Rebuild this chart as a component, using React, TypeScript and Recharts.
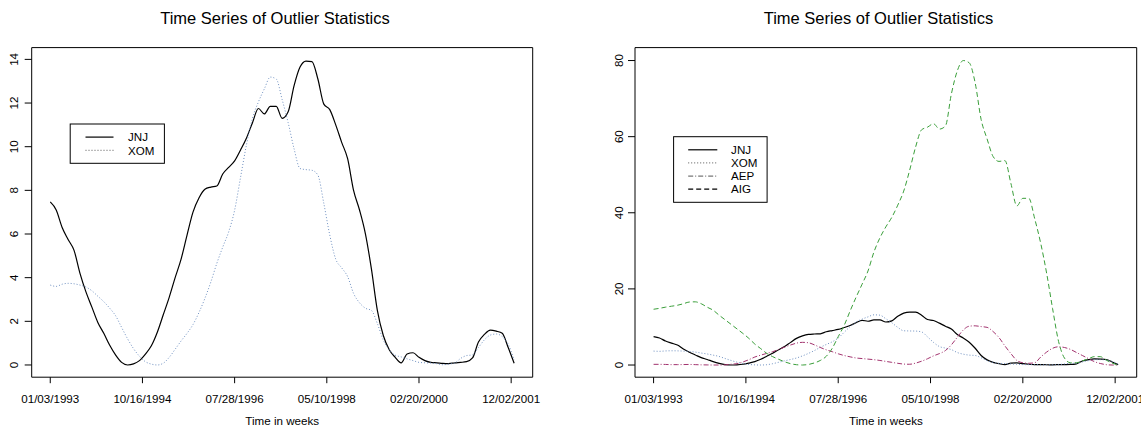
import React from "react";
import { LineChart, Line, XAxis, YAxis, ReferenceArea } from "recharts";

const weeks = [0, 6, 12, 18, 24, 30, 36, 42, 48, 54, 60, 66, 72, 78, 84, 90, 96, 102, 108, 114, 120, 126, 132, 138, 144, 150, 156, 162, 168, 174, 180, 186, 192, 198, 204, 210, 216, 222, 228, 234, 240, 246, 252, 258, 264, 270, 276, 282, 288, 294, 300, 306, 312, 318, 324, 330, 336, 342, 348, 354, 360, 366, 372, 378, 384, 390, 396, 402, 408, 414, 420, 426, 432, 438, 444, 450, 456, 462, 468];

const jnj = [7.47, 7.1, 6.3, 5.75, 5.25, 4.2, 3.35, 2.65, 1.95, 1.45,
  0.9, 0.45, 0.12, 0.0, 0.05, 0.2, 0.5, 0.88, 1.5, 2.3,
  3.1, 4.0, 4.85, 5.95, 7.0, 7.65, 8.05, 8.15, 8.2, 8.75,
  9.05, 9.35, 9.85, 10.4, 11.1, 11.75, 11.5, 11.85, 11.85, 11.3,
  11.6, 12.8, 13.65, 13.92, 13.9, 13.1, 11.95, 11.7, 11.0, 10.2,
  9.45, 8.0, 7.1, 6.0, 4.4, 2.5, 1.35, 0.7, 0.35, 0.1,
  0.5, 0.56, 0.35, 0.2, 0.12, 0.1, 0.07, 0.06, 0.1, 0.12,
  0.15, 0.32, 1.05, 1.4, 1.6, 1.55, 1.45, 0.8, 0.08];

const xom = [3.66, 3.6, 3.7, 3.74, 3.72, 3.66, 3.57, 3.4, 3.15, 2.9,
  2.6, 2.25, 1.72, 1.2, 0.75, 0.4, 0.15, 0.04, 0.0, 0.08,
  0.35, 0.72, 1.1, 1.45, 1.85, 2.4, 3.05, 3.8, 4.65, 5.4,
  6.1, 7.09, 8.6, 10.1, 11.3, 12.05, 12.65, 13.19, 13.1, 12.15,
  11.1, 9.9, 9.0, 8.95, 8.92, 8.7, 7.4, 5.95, 4.85, 4.45,
  4.05, 3.28, 2.85, 2.6, 2.5, 1.9, 1.14, 0.7, 0.45, 0.37,
  0.28, 0.2, 0.12, 0.1, 0.09, 0.06, 0.01, 0.04, 0.09, 0.3,
  0.43, 0.46, 0.8, 1.15, 1.37, 1.42, 1.3, 0.95, 0.23];

const aep = [0.18, 0.18, 0.15, 0.1, 0.1, 0.12, 0.15, 0.1, 0.05, 0.03,
  0.0, 0.0, 0.05, 0.2, 0.35, 0.8, 1.4, 2.1, 2.6, 3.05,
  3.5, 4.1, 4.7, 5.26, 5.75, 5.96, 5.85, 5.3, 4.6, 4.0,
  3.5, 2.95, 2.5, 2.15, 1.85, 1.7, 1.55, 1.4, 1.2, 0.95,
  0.7, 0.45, 0.25, 0.2, 0.5, 1.0, 1.65, 2.4, 3.0, 3.8,
  5.3, 7.3, 9.2, 10.2, 10.3, 10.1, 9.9, 8.8, 7.2, 5.0,
  3.0, 1.2, 0.6, 0.45, 0.6, 2.1, 3.4, 4.4, 4.8, 4.6,
  4.1, 3.3, 2.5, 1.7, 0.9, 0.4, 0.1, 0.0, 0.0];

const aig = [14.65, 14.9, 15.2, 15.45, 15.7, 16.1, 16.55, 16.6, 16.1, 15.2,
  14.4, 13.1, 11.9, 10.7, 9.5, 8.3, 7.0, 5.5, 4.3, 3.07,
  2.2, 1.5, 0.85, 0.35, 0.08, 0.0, 0.15, 0.55, 1.2, 2.3,
  4.4, 7.45, 10.4, 14.2, 17.8, 21.2, 24.7, 29.7, 33.4, 36.3,
  38.8, 42.0, 45.7, 51.2, 57.3, 61.8, 62.5, 63.4, 62.0, 62.8,
  71.2, 77.3, 80.0, 79.4, 74.1, 64.5, 59.4, 54.8, 53.5, 53.7,
  47.7, 41.8, 43.8, 43.8, 38.4, 32.0, 24.1, 14.8, 6.2, 1.8,
  0.6, 0.6, 1.1, 1.6, 2.2, 2.2, 1.3, 0.5, 0.0];

const xTickWeeks = [0, 93, 186, 279, 372, 465];
const xTickLabels = ["01/03/1993", "10/16/1994", "07/28/1996", "05/10/1998", "02/20/2000", "12/02/2001"];
const leftYTicks = [0, 2, 4, 6, 8, 10, 12, 14];
const rightYTicks = [0, 20, 40, 60, 80];
const chartTitle = "Time Series of Outlier Statistics";
const xAxisTitle = "Time in weeks";

const rows = weeks.map((w, i) => ({ w, JNJ: jnj[i], XOM: xom[i], AEP: aep[i], AIG: aig[i] }));

const FONT = "'Liberation Sans', Arial, Helvetica, sans-serif";
const X_DOMAIN: [number, number] = [-18.72, 486.72];

const STYLES: Record<string, { stroke: string; dash?: string; width: number; legendStroke: string }> = {
  JNJ: { stroke: "#000000", width: 1.2, legendStroke: "#000000" },
  XOM: { stroke: "#6f90c0", dash: "1 2", width: 1, legendStroke: "#555555" },
  AEP: { stroke: "#a2336e", dash: "5 2 1 2", width: 1, legendStroke: "#555555" },
  AIG: { stroke: "#3a9e3a", dash: "5 3", width: 1, legendStroke: "#000000" },
};

function XTick(props: any) {
  const { x, y, payload } = props;
  const i = xTickWeeks.indexOf(payload.value);
  return (
    <text x={x} y={y} dy={17.3} textAnchor="middle" fontSize={11.6} fontFamily={FONT} fill="#000">
      {xTickLabels[i]}
    </text>
  );
}

function makeYTick(shift: number) {
  return function YTick(props: any) {
    const { x, y, payload } = props;
    const cx = x - shift;
    return (
      <text
        x={cx}
        y={y}
        transform={`rotate(-90 ${cx} ${y})`}
        textAnchor="middle"
        dominantBaseline="central"
        fontSize={11.6}
        fontFamily={FONT}
        fill="#000"
      >
        {payload.value}
      </text>
    );
  };
}

type PanelProps = {
  left: number;
  width: number;
  margin: { top: number; right: number; bottom: number; left: number };
  yDomain: [number, number];
  yTicks: number[];
  series: string[];
  yShift: number;
  titleX: number;
  labelX: number;
  legend: { x: number; y: number; w: number; h: number; lx1: number; lx2: number; tx: number; rows: number[] };
};

function Panel(p: PanelProps) {
  const YT = makeYTick(p.yShift);
  return (
    <div style={{ position: "absolute", left: p.left, top: 0, width: p.width, height: 427 }}>
      <LineChart width={p.width} height={427} data={rows} margin={p.margin}>
        <XAxis
          dataKey="w"
          type="number"
          domain={X_DOMAIN}
          allowDataOverflow
          ticks={xTickWeeks}
          interval={0}
          height={1}
          axisLine={false}
          tickLine={{ stroke: "#000", strokeWidth: 1 }}
          tickSize={6}
          tickMargin={2}
          tick={<XTick />}
        />
        <YAxis
          type="number"
          domain={p.yDomain}
          allowDataOverflow
          ticks={p.yTicks}
          interval={0}
          width={1}
          axisLine={false}
          tickLine={{ stroke: "#000", strokeWidth: 1 }}
          tickSize={7}
          tickMargin={2}
          tick={<YT />}
        />
        {p.series.map((s) => (
          <Line
            key={s}
            dataKey={s}
            type="monotone"
            stroke={STYLES[s].stroke}
            strokeWidth={STYLES[s].width}
            strokeDasharray={STYLES[s].dash}
            dot={false}
            activeDot={false}
            isAnimationActive={false}
          />
        ))}
        <ReferenceArea
          x1={X_DOMAIN[0]}
          x2={X_DOMAIN[1]}
          y1={p.yDomain[0]}
          y2={p.yDomain[1]}
          fill="none"
          fillOpacity={0}
          stroke="#000"
          strokeWidth={1}
          ifOverflow="visible"
        />
      </LineChart>
      <svg
        width={p.width}
        height={427}
        style={{ position: "absolute", left: 0, top: 0, pointerEvents: "none" }}
      >
        <text x={p.titleX} y={24.2} textAnchor="middle" fontSize={16.5} fontFamily={FONT} fill="#000">
          {chartTitle}
        </text>
        <text x={p.labelX} y={424.6} textAnchor="middle" fontSize={11.6} fontFamily={FONT} fill="#000">
          {xAxisTitle}
        </text>
        <rect x={p.legend.x} y={p.legend.y} width={p.legend.w} height={p.legend.h} fill="#fff" stroke="#000" strokeWidth={1} />
        {p.series.map((s, i) => (
          <g key={s}>
            <line
              x1={p.legend.lx1}
              x2={p.legend.lx2}
              y1={p.legend.rows[i]}
              y2={p.legend.rows[i]}
              stroke={STYLES[s].legendStroke}
              strokeWidth={s === "JNJ" || s === "AIG" ? 1.2 : 1}
              strokeDasharray={STYLES[s].dash}
            />
            <text x={p.legend.tx} y={p.legend.rows[i] + 4.2} fontSize={11.6} fontFamily={FONT} fill="#000">
              {s}
            </text>
          </g>
        ))}
      </svg>
    </div>
  );
}

export default function App() {
  return (
    <div style={{ position: "absolute", left: 0, top: 0, width: 1141, height: 427, background: "#fff" }}>
      <Panel
        left={0}
        width={570}
        margin={{ top: 47.6, right: 37.3, bottom: 48.8, left: 30.7 }}
        yDomain={[-0.56, 14.54]}
        yTicks={leftYTicks}
        series={["JNJ", "XOM"]}
        yShift={9.4}
        titleX={275}
        labelX={282.2}
        legend={{ x: 70.2, y: 124, w: 94.2, h: 39.3, lx1: 85.5, lx2: 113.5, tx: 128, rows: [137.1, 150.3] }}
      />
      <Panel
        left={570}
        width={571}
        margin={{ top: 47.6, right: 4.3, bottom: 48.8, left: 64 }}
        yDomain={[-3.2, 83.4]}
        yTicks={rightYTicks}
        series={["JNJ", "XOM", "AEP", "AIG"]}
        yShift={7.7}
        titleX={308.5}
        labelX={315.9}
        legend={{ x: 103.6, y: 136.7, w: 93.5, h: 65.6, lx1: 118.2, lx2: 147.3, tx: 161.1, rows: [149.8, 162.9, 176.1, 189.2] }}
      />
    </div>
  );
}
